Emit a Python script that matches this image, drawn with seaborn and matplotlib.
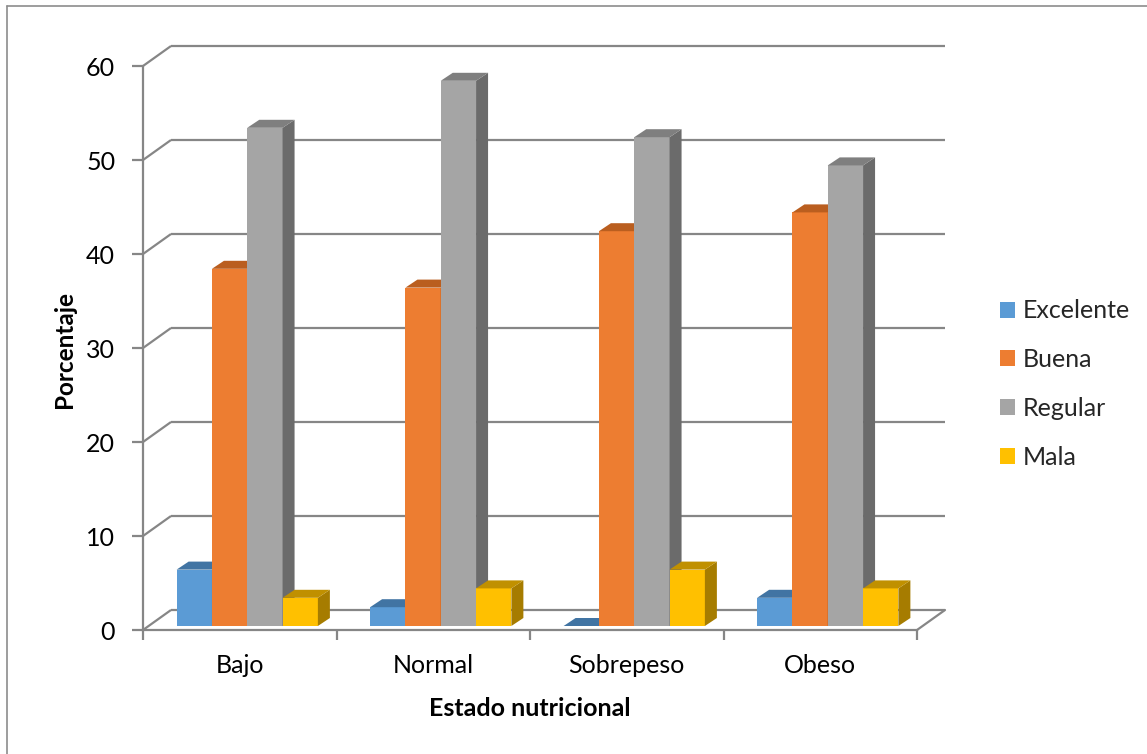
import matplotlib
matplotlib.use("Agg")
import matplotlib.pyplot as plt
from matplotlib.patches import Polygon, Patch
from matplotlib.lines import Line2D
import seaborn as sns
import pandas as pd

categories = ["Bajo", "Normal", "Sobrepeso", "Obeso"]
series = ["Excelente", "Buena", "Regular", "Mala"]
excelente = [6, 2, 0, 3]
buena = [38, 36, 42, 44]
regular = [53, 58, 52, 49]
mala = [3, 4, 6, 4]
yticks = [0, 10, 20, 30, 40, 50, 60]

front_colors = ["#5B9BD5", "#ED7D31", "#A5A5A5", "#FFC000"]
top_colors = ["#4174A3", "#BA5E1F", "#7F7F7F", "#C09000"]
side_colors = ["#3B6A95", "#A8551B", "#6B6B6B", "#A67C00"]

rows = []
for s, vals in zip(series, [excelente, buena, regular, mala]):
    for c, v in zip(categories, vals):
        rows.append({"Estado": c, "Serie": s, "Valor": v})
df = pd.DataFrame(rows)

sns.set_theme(style="white")
plt.rcParams["font.family"] = ["Lato", "DejaVu Sans"]

W, H = 1147, 754
fig = plt.figure(figsize=(W / 100, H / 100), dpi=100)
xl, xr = -0.5, 3.75
yb, yt = -1, 64
pxc, pyu = 193.5, 9.4
left_px = 143
right_px = left_px + (xr - xl) * pxc
bot_px = 630 + (0 - yb) * pyu
top_px = 630 - yt * pyu
ax = fig.add_axes([left_px / W, (H - bot_px) / H, (right_px - left_px) / W, (bot_px - top_px) / H])

sns.barplot(data=df, x="Estado", y="Valor", hue="Serie", order=categories,
            hue_order=series, palette=front_colors, width=0.73, gap=0,
            legend=False, ax=ax, saturation=1, edgecolor="none", linewidth=0)

ax.set_xlim(xl, xr)
ax.set_ylim(yb, yt)

gc = "#868686"
dxw, dyw = 28 / pxc, 20 / pyu  # wall depth
dxb, dyb = 12 / pxc, 8 / pyu   # bar depth
sx, sy = 7.5 / pxc, 4 / pyu    # bars placed inside depth

for v in yticks:
    ax.plot([xl, xl + dxw], [v, v + dyw], color=gc, lw=1.6, zorder=1, solid_capstyle="butt")
    ax.plot([xl + dxw, 3.5 + dxw], [v + dyw, v + dyw], color=gc, lw=1.6, zorder=1, solid_capstyle="butt")
ax.plot([3.5, 3.5 + dxw], [0, dyw], color=gc, lw=1.6, zorder=1)

patches = list(ax.patches)
n = len(categories)
info = []
for i, p in enumerate(patches):
    si = i // n
    p.set_x(p.get_x() + sx)
    p.set_y(p.get_y() + sy)
    info.append((p.get_x(), p, si))
info.sort(key=lambda t: t[0])
for k, (x0, p, si) in enumerate(info):
    z = 3 + k * 0.1
    w = p.get_width()
    y0 = p.get_y()
    y1 = y0 + p.get_height()
    x1 = x0 + w
    p.set_zorder(z)
    side = Polygon([(x1, y0), (x1 + dxb, y0 + dyb), (x1 + dxb, y1 + dyb), (x1, y1)],
                   closed=True, facecolor=side_colors[si], edgecolor="none", zorder=z + 0.01)
    top = Polygon([(x0, y1), (x0 + dxb, y1 + dyb), (x1 + dxb, y1 + dyb), (x1, y1)],
                  closed=True, facecolor=top_colors[si], edgecolor="none", zorder=z + 0.02)
    ax.add_patch(side)
    ax.add_patch(top)

for s in ["top", "right"]:
    ax.spines[s].set_visible(False)
ax.spines["left"].set_bounds(0, 60)
ax.spines["left"].set_color(gc)
ax.spines["left"].set_linewidth(1.6)
ax.spines["bottom"].set_position(("data", 0))
ax.spines["bottom"].set_bounds(-0.5, 3.5)
ax.spines["bottom"].set_color(gc)
ax.spines["bottom"].set_linewidth(1.6)
ax.spines["bottom"].set_zorder(2)

ax.set_yticks(yticks)
ax.set_yticklabels([str(v) for v in yticks])
ax.tick_params(axis="y", which="major", left=True, length=8, width=1.6, color=gc,
               pad=12, labelsize=18, labelcolor="#000000")
ax.set_xticks([-0.5, 0.5, 1.5, 2.5, 3.5])
ax.set_xticklabels([""] * 5)
ax.tick_params(axis="x", which="major", bottom=True, length=7, width=1.6, color=gc, direction="out")
ax.set_xticks(range(len(categories)), minor=True)
ax.set_xticklabels(categories, minor=True)
ax.tick_params(axis="x", which="minor", bottom=True, length=0, pad=17, labelsize=18, labelcolor="#000000")
ax.set_xlabel("")
ax.set_ylabel("")
ax.grid(False)
ax.patch.set_alpha(0)

fig.text(530 / W, 1 - 708 / H, "Estado nutricional", ha="center", va="center",
         fontsize=18, fontweight="bold", color="#000000")
fig.text(65 / W, 1 - 349 / H, "Porcentaje", ha="center", va="center", rotation=90,
         fontsize=17.5, fontweight="bold", color="#000000")

handles = [Patch(facecolor=c, edgecolor="none", label=s) for c, s in zip(front_colors, series)]
leg = fig.legend(handles=handles, loc="center left", bbox_to_anchor=(1000 / W, 1 - 384 / H),
                 frameon=False, fontsize=18, handlelength=0.6, handleheight=0.6,
                 handletextpad=0.32, labelspacing=1.03, borderaxespad=0, borderpad=0)

fig.add_artist(Line2D([7 / W, 1], [1 - 6 / H, 1 - 6 / H], transform=fig.transFigure, color="#8c8c8c", lw=1.2))
fig.add_artist(Line2D([7 / W, 7 / W], [0, 1 - 6 / H], transform=fig.transFigure, color="#8c8c8c", lw=1.2))

fig.savefig("out.png", dpi=100, facecolor="white")
